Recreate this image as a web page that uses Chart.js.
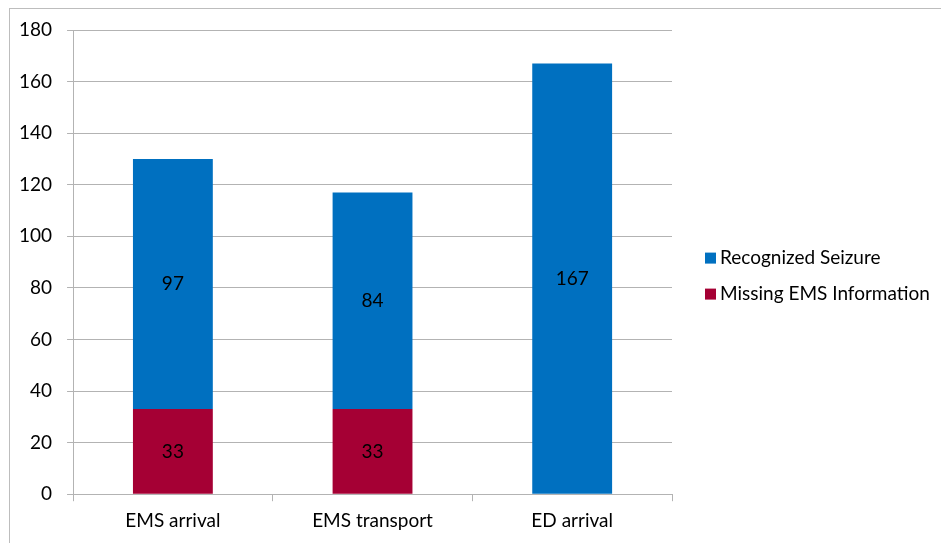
<!DOCTYPE html>
<html><head><meta charset="utf-8">
<script src="https://cdn.jsdelivr.net/npm/chart.js@4/dist/chart.umd.min.js"></script>
<style>
html,body{margin:0;padding:0;background:#fff;width:941px;height:543px;overflow:hidden;position:relative}
#frame{position:absolute;left:9px;top:8px;width:1000px;height:600px;border-left:1.5px solid #bdbdbd;border-top:1.5px solid #bdbdbd}
#wrap{position:absolute;left:0;top:0;width:941px;height:543px}
</style></head>
<body><div id="frame"></div><div id="wrap"><canvas id="c" width="941" height="543"></canvas></div>
<script>
const categories = ["EMS arrival", "EMS transport", "ED arrival"];
const missingEMS = [33, 33, 0];
const recognizedSeizure = [97, 84, 167];
const yTicks = [0, 20, 40, 60, 80, 100, 120, 140, 160, 180];

const FONT = "Lato, 'Open Sans', sans-serif";
const gridColor = "#b3b3b3";

const labelPlugin = {
  id: 'segLabels',
  afterDatasetsDraw(chart) {
    const ctx = chart.ctx;
    ctx.save();
    ctx.font = "19px " + FONT;
    ctx.fillStyle = "#000";
    ctx.textAlign = "center";
    ctx.textBaseline = "middle";
    chart.data.datasets.forEach((ds, di) => {
      const meta = chart.getDatasetMeta(di);
      meta.data.forEach((el, i) => {
        const v = ds.data[i];
        if (!v) return;
        ctx.fillText(String(v), el.x, (el.y + el.base) / 2);
      });
    });
    ctx.restore();
  }
};

// Legend drawn to the right of the plot area, in reverse dataset order
const sideLegend = {
  id: 'sideLegend',
  afterDraw(chart) {
    const ctx = chart.ctx;
    const a = chart.chartArea;
    const items = chart.data.datasets.map(d => ({ label: d.label, color: d.backgroundColor })).reverse();
    const step = 36;
    const cy0 = (a.top + a.bottom) / 2 - 4;
    ctx.save();
    ctx.font = "19px " + FONT;
    ctx.textBaseline = "middle";
    ctx.textAlign = "left";
    items.forEach((it, i) => {
      const cy = cy0 + i * step;
      const bx = a.right + 33;
      ctx.fillStyle = it.color;
      ctx.fillRect(bx, cy - 5.5, 11, 11);
      ctx.fillStyle = "#000";
      ctx.fillText(it.label, bx + 15, cy);
    });
    ctx.restore();
  }
};

new Chart(document.getElementById('c'), {
  type: 'bar',
  data: {
    labels: categories,
    datasets: [
      { label: "Missing EMS Information", data: missingEMS, backgroundColor: "#a50034", borderWidth: 0 },
      { label: "Recognized Seizure", data: recognizedSeizure, backgroundColor: "#0070c0", borderWidth: 0 }
    ]
  },
  options: {
    responsive: false,
    animation: false,
    devicePixelRatio: 1,
    barPercentage: 0.4,
    categoryPercentage: 1.0,
    layout: { padding: { left: 4, top: 30, right: 269, bottom: 3 } },
    plugins: {
      legend: { display: false },
      tooltip: { enabled: false }
    },
    scales: {
      x: {
        stacked: true,
        grid: { offset: true, drawOnChartArea: false, drawTicks: true, tickLength: 7, color: gridColor },
        border: { color: gridColor, width: 1 },
        ticks: { font: { family: FONT, size: 19 }, color: "#000", padding: 8 }
      },
      y: {
        stacked: true,
        min: 0, max: 180,
        afterBuildTicks(axis) { axis.ticks = yTicks.map(v => ({ value: v })); },
        grid: { color: gridColor, tickLength: 6 },
        border: { color: gridColor, width: 1 },
        ticks: { font: { family: FONT, size: 19 }, color: "#000", padding: 15 }
      }
    }
  },
  plugins: [labelPlugin, sideLegend]
});
</script></body></html>
